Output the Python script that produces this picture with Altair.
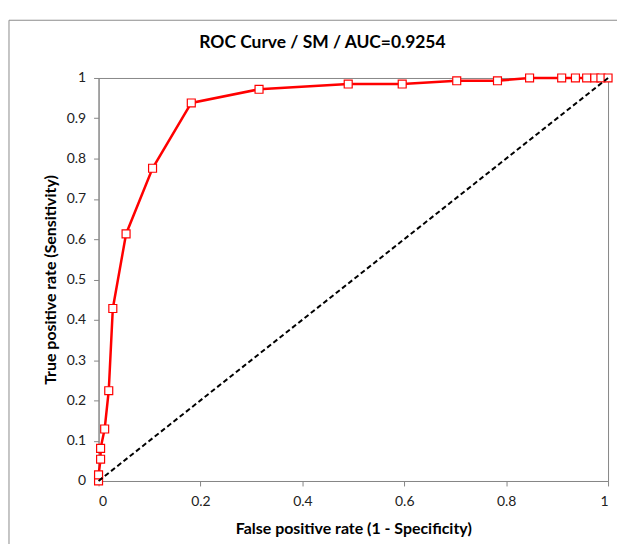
import altair as alt
import pandas as pd

# ROC curve points
fpr = [0, 0, 0.004, 0.004, 0.012, 0.02, 0.028, 0.054, 0.106, 0.182, 0.315,
       0.49, 0.596, 0.703, 0.783, 0.846, 0.909, 0.936, 0.958, 0.974, 0.986, 1.0]
tpr = [0, 0.015, 0.054, 0.081, 0.129, 0.224, 0.428, 0.613, 0.776, 0.938, 0.972,
       0.985, 0.985, 0.993, 0.993, 1, 1, 1, 1, 1, 1, 1]

diag_x = [0, 1]
diag_y = [0, 1]

x_ticks = [0, 0.2, 0.4, 0.6, 0.8, 1]
y_ticks = [0, 0.1, 0.2, 0.3, 0.4, 0.5, 0.6, 0.7, 0.8, 0.9, 1]

title_text = "ROC Curve / SM / AUC=0.9254"
x_title = "False positive rate (1 - Specificity)"
y_title = "True positive rate (Sensitivity)"

roc = pd.DataFrame({"fpr": fpr, "tpr": tpr, "order": list(range(len(fpr)))})
diag = pd.DataFrame({"fpr": diag_x, "tpr": diag_y})
frame = pd.DataFrame({"k": [0]})
title_df = pd.DataFrame({"t": [title_text]})

xscale = alt.Scale(domain=[0, 1], nice=False)
yscale = alt.Scale(domain=[0, 1], nice=False)

xaxis = alt.Axis(values=x_ticks, format="~g", title=x_title, tickSize=5,
                 labelPadding=9, titleY=53, titleBaseline="alphabetic")
yaxis = alt.Axis(values=y_ticks, format="~g", title=y_title, tickSize=5,
                 labelPadding=8, titleX=-43, titleY=202.5, titleAngle=-90,
                 titleBaseline="alphabetic")

border = alt.Chart(frame).mark_rect(
    fill="white", fillOpacity=0, stroke="#8c8c8c", strokeWidth=1, clip=False
).encode(x=alt.value(-90), x2=alt.value(800), y=alt.value(-58), y2=alt.value(800))

title = alt.Chart(title_df).mark_text(
    font="Lato", fontSize=17.5, fontWeight="bold", color="black",
    align="center", baseline="alphabetic", clip=False
).encode(text="t:N", x=alt.value(225), y=alt.value(-30))

line = alt.Chart(roc).mark_line(color="#ff0000", strokeWidth=2.5, clip=False).encode(
    x=alt.X("fpr:Q", scale=xscale, axis=xaxis),
    y=alt.Y("tpr:Q", scale=yscale, axis=yaxis),
    order="order:Q",
)

points = alt.Chart(roc).mark_point(
    shape="square", filled=True, fill="white", stroke="#ff0000",
    strokeWidth=1.2, size=64, opacity=1, clip=False
).encode(
    x=alt.X("fpr:Q", scale=xscale),
    y=alt.Y("tpr:Q", scale=yscale),
)

diagonal = alt.Chart(diag).mark_line(
    color="black", strokeWidth=2, strokeDash=[5, 3], clip=False
).encode(
    x=alt.X("fpr:Q", scale=xscale),
    y=alt.Y("tpr:Q", scale=yscale),
)

chart = alt.layer(border, title, line, points, diagonal).properties(
    width=512,
    height=405,
    autosize=alt.AutoSizeParams(type="none"),
    padding={"left": 91, "top": 69, "right": 9, "bottom": 62},
).configure_view(
    stroke="#868686", strokeWidth=1
).configure_axis(
    grid=False,
    domainColor="#868686",
    tickColor="#868686",
    labelFont="Lato",
    labelFontSize=14,
    labelColor="#222222",
    titleFont="Lato",
    titleFontSize=16,
    titleFontWeight="bold",
    titleColor="black",
)

chart.save("out.html", embed_options={"renderer": "svg", "actions": False})
